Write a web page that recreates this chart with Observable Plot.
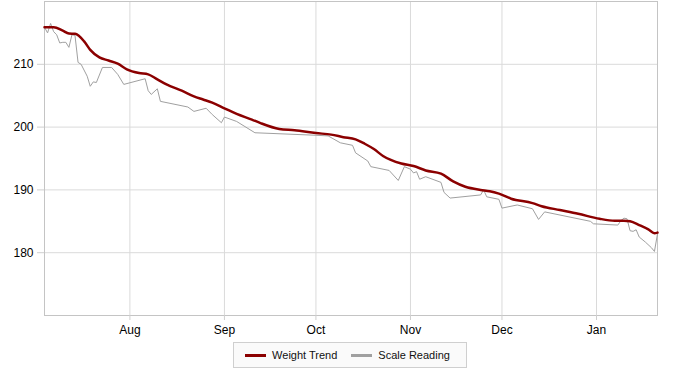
<!DOCTYPE html>
<html>
<head>
<meta charset="utf-8">
<script src="https://cdn.jsdelivr.net/npm/d3@7"></script>
<script src="https://cdn.jsdelivr.net/npm/@observablehq/plot@0.6"></script>
<style>
  html, body { margin: 0; padding: 0; background: #fff; }
  body { width: 700px; font-family: "Liberation Sans", Arial, sans-serif; }
  #chart svg { display: block; }
  #legend-wrap { text-align: center; margin-top: 2px; }
  #legend {
    display: inline-flex; align-items: center; box-sizing: border-box;
    height: 26px; padding: 0 16px 0 11px; border: 1px solid #cfcfcf; background: #fafafa;
    font-size: 11px; color: #111;
  }
  .sw { display: inline-block; width: 21px; height: 3px; margin-right: 6px; }
  .item { display: inline-flex; align-items: center; }
  .item + .item { margin-left: 14px; }
</style>
</head>
<body>
<div id="chart"></div>
<div id="legend-wrap"><div id="legend"></div></div>
<script>
// Weight trend (smoothed)
const trendDates = ["2012-07-04","2012-07-07","2012-07-10","2012-07-12","2012-07-14","2012-07-17","2012-07-19","2012-07-22","2012-07-25","2012-07-28","2012-07-31","2012-08-04","2012-08-07","2012-08-10","2012-08-13","2012-08-18","2012-08-22","2012-08-25","2012-08-28","2012-09-01","2012-09-05","2012-09-10","2012-09-13","2012-09-19","2012-09-24","2012-10-01","2012-10-06","2012-10-10","2012-10-14","2012-10-17","2012-10-20","2012-10-23","2012-10-29","2012-11-02","2012-11-06","2012-11-11","2012-11-15","2012-11-19","2012-11-24","2012-11-27","2012-11-30","2012-12-04","2012-12-11","2012-12-14","2012-12-20","2012-12-26","2013-01-02","2013-01-07","2013-01-10","2013-01-12","2013-01-15","2013-01-18","2013-01-20","2013-01-21"];
const trendValues = [215.9,215.9,215.35,214.9,214.85,213.65,212.3,211.1,210.6,210.1,209.2,208.6,208.4,207.6,206.8,205.8,204.9,204.4,203.9,203.0,202.1,201.2,200.6,199.7,199.5,199.05,198.8,198.4,198.05,197.35,196.5,195.4,194.2,193.8,193.1,192.6,191.35,190.5,190.0,189.8,189.4,188.6,187.9,187.4,186.8,186.2,185.4,185.1,185.1,185.0,184.4,183.7,183.1,183.2];

// Scale readings
const scaleDates = ["2012-07-04","2012-07-05","2012-07-06","2012-07-07","2012-07-08","2012-07-09","2012-07-10","2012-07-11","2012-07-12","2012-07-13","2012-07-14","2012-07-15","2012-07-16","2012-07-18","2012-07-19","2012-07-20","2012-07-21","2012-07-23","2012-07-26","2012-07-28","2012-07-30","2012-08-06","2012-08-07","2012-08-08","2012-08-10","2012-08-11","2012-08-20","2012-08-22","2012-08-26","2012-08-28","2012-08-31","2012-09-01","2012-09-05","2012-09-11","2012-10-01","2012-10-05","2012-10-09","2012-10-13","2012-10-14","2012-10-18","2012-10-19","2012-10-25","2012-10-28","2012-10-30","2012-11-01","2012-11-02","2012-11-03","2012-11-04","2012-11-06","2012-11-11","2012-11-12","2012-11-14","2012-11-24","2012-11-25","2012-11-26","2012-11-30","2012-12-01","2012-12-06","2012-12-11","2012-12-13","2012-12-15","2012-12-30","2012-12-31","2013-01-08","2013-01-09","2013-01-10","2013-01-11","2013-01-12","2013-01-13","2013-01-14","2013-01-15","2013-01-17","2013-01-19","2013-01-20","2013-01-21"];
const scaleValues = [215.9,215.0,216.5,215.2,214.7,213.4,213.5,213.5,212.7,214.7,214.6,210.3,210.0,208.1,206.5,207.2,207.1,209.5,209.5,208.4,206.8,207.7,205.8,205.2,206.1,204.1,203.2,202.5,203.0,202.0,200.7,201.6,200.9,199.1,198.7,198.6,197.5,197.1,195.9,194.6,193.7,193.1,191.5,193.7,193.3,192.7,192.9,191.7,192.1,191.2,189.6,188.7,189.2,190.0,188.9,188.5,187.1,187.6,187.0,185.3,186.5,185.0,184.6,184.4,185.1,185.5,185.4,183.5,183.4,183.65,182.5,181.7,180.8,180.2,183.0];

const yTicks = [180, 190, 200, 210];
const xTickDates = ["2012-08-01","2012-09-01","2012-10-01","2012-11-01","2012-12-01","2013-01-01"];
const xTickLabels = ["Aug","Sep","Oct","Nov","Dec","Jan"];
const seriesNames = ["Weight Trend", "Scale Reading"];
const seriesColors = ["#8b0000", "#a0a0a0"];

const trend = trendDates.map((d, i) => ({date: new Date(d), value: trendValues[i]}));
const scale = scaleDates.map((d, i) => ({date: new Date(d), value: scaleValues[i]}));
const xTicks = xTickDates.map(d => new Date(d));
const labelOf = new Map(xTicks.map((d, i) => [+d, xTickLabels[i]]));

const chart = Plot.plot({
  width: 700,
  height: 340,
  marginTop: 1,
  marginLeft: 44,
  marginRight: 43,
  marginBottom: 25,
  style: {fontFamily: "'Liberation Sans', Arial, sans-serif", fontSize: "12px", color: "#000", background: "#fff", overflow: "visible"},
  x: {type: "utc", domain: [new Date("2012-07-04"), new Date("2013-01-21")]},
  y: {domain: [170, 220]},
  marks: [
    Plot.gridY(yTicks, {stroke: "#dadada", strokeOpacity: 1}),
    Plot.gridX(xTicks, {stroke: "#dadada", strokeOpacity: 1}),
    Plot.frame({stroke: "#c4c4c4"}),
    Plot.axisY(yTicks, {tickSize: 7, tickPadding: 4, stroke: "#cfcfcf", fill: "#000", label: null}),
    Plot.axisX(xTicks, {tickSize: 5, tickPadding: 5, stroke: "#cfcfcf", fill: "#000", label: null, tickFormat: d => labelOf.get(+d)}),
    Plot.line(scale, {x: "date", y: "value", stroke: seriesColors[1], strokeWidth: 1}),
    Plot.line(trend, {x: "date", y: "value", stroke: seriesColors[0], strokeWidth: 2.5, curve: "monotone-x"})
  ]
});
document.getElementById("chart").appendChild(chart);

const legend = document.getElementById("legend");
seriesNames.forEach((name, i) => {
  const item = document.createElement("span");
  item.className = "item";
  const sw = document.createElement("span");
  sw.className = "sw";
  sw.style.background = seriesColors[i];
  item.appendChild(sw);
  item.appendChild(document.createTextNode(name));
  legend.appendChild(item);
});
</script>
</body>
</html>
